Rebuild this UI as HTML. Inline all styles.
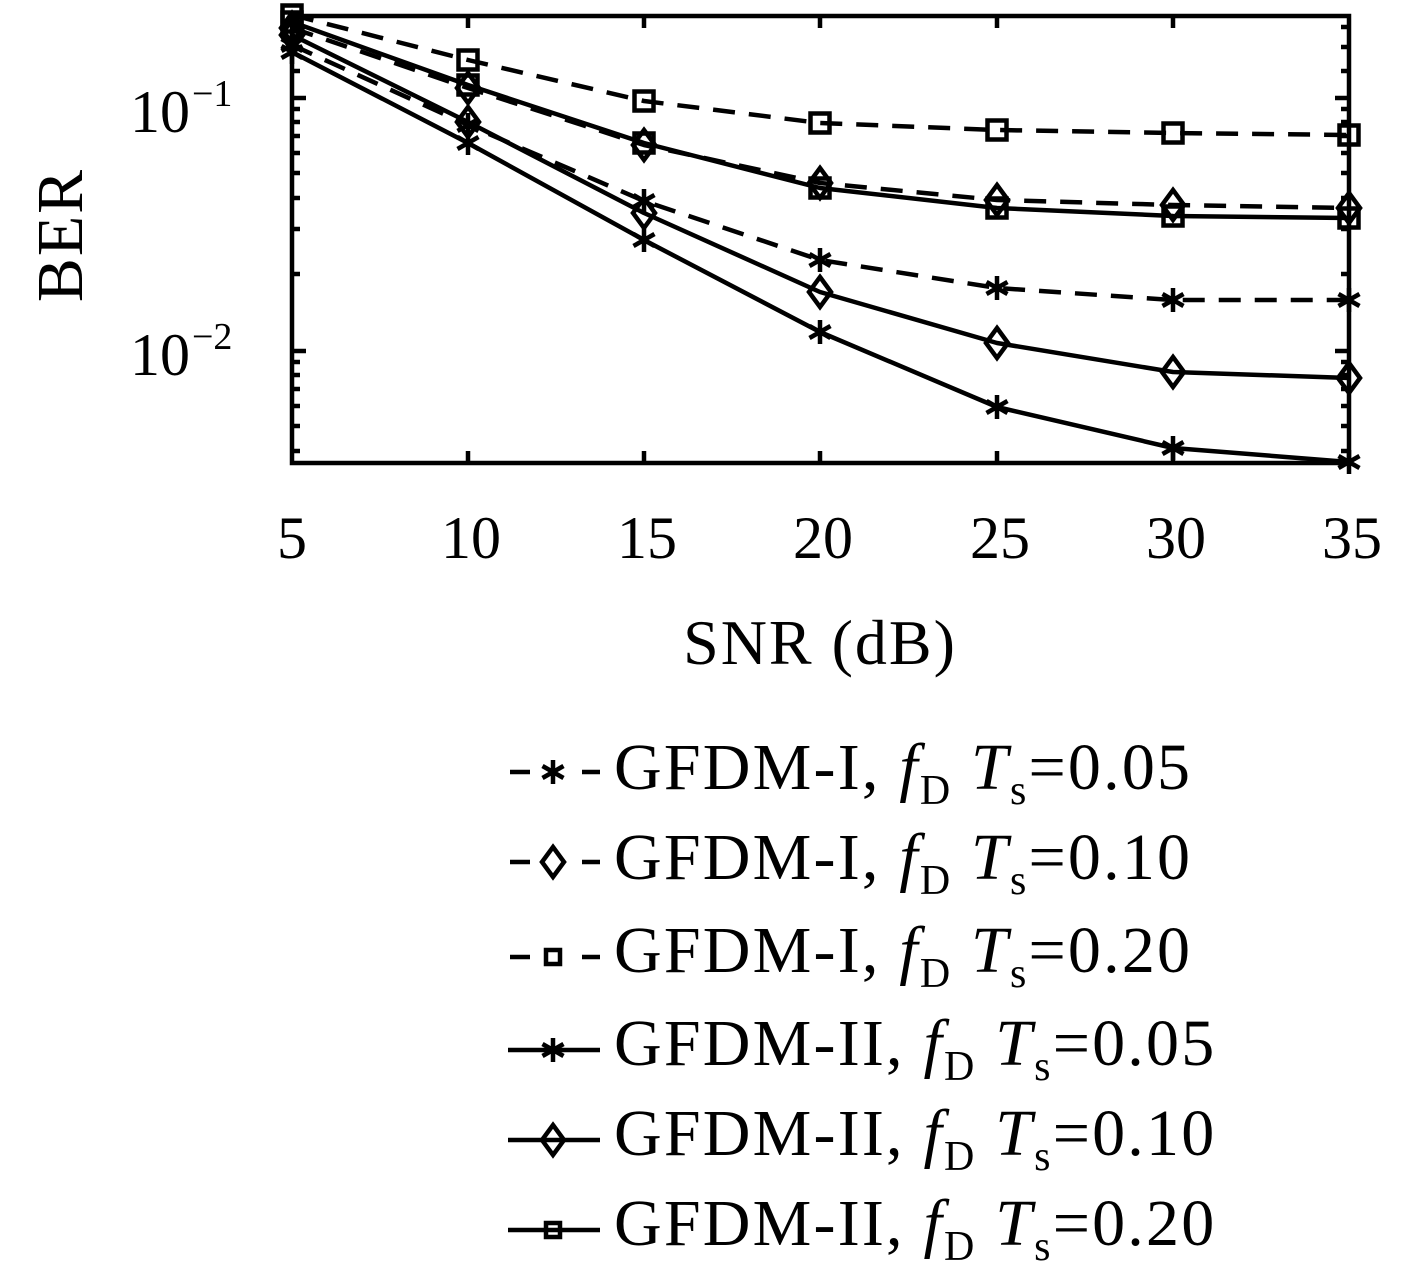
<!DOCTYPE html>
<html><head><style>body{margin:0;background:#fff}svg{display:block}</style></head><body>
<svg width="1417" height="1264" viewBox="0 0 1417 1264" xmlns="http://www.w3.org/2000/svg" font-family="Liberation Serif, serif">
<defs>
<g id="st" stroke="#000" stroke-width="4.5" fill="none"><path d="M0,-12V12M-10.5,-6L10.5,6M-10.5,6L10.5,-6"/></g>
<g id="di" stroke="#000" stroke-width="4.5" fill="none"><path d="M0,-15L11,0L0,15L-11,0Z"/></g>
<g id="sq" stroke="#000" stroke-width="4.5" fill="none"><rect x="-9.5" y="-9.5" width="19" height="19"/></g>
<g id="sqs" stroke="#000" stroke-width="4.5" fill="none"><rect x="-7" y="-7" width="14" height="14"/></g>
</defs>
<g stroke="#000" stroke-width="4.5" fill="none">
<rect x="292" y="16" width="1057" height="447"/>
<path d="M468,16v12M644,16v12M820,16v12M997,16v12M1173,16v12M468,463v-12M644,463v-12M820,463v-12M997,463v-12M1173,463v-12"/>
<path d="M292,98h14M292,351h14M1349,98h-14M1349,351h-14"/>
<path d="M292,109h8M292,122h8M292,136h8M292,153h8M292,173h8M292,198h8M292,229h8M292,274h8M292,362h8M292,375h8M292,389h8M292,406h8M292,426h8M292,451h8M292,27h8M292,47h8M292,71h8"/>
<path d="M1349,109h-8M1349,122h-8M1349,136h-8M1349,153h-8M1349,173h-8M1349,198h-8M1349,229h-8M1349,274h-8M1349,362h-8M1349,375h-8M1349,389h-8M1349,406h-8M1349,426h-8M1349,451h-8M1349,27h-8M1349,47h-8M1349,71h-8"/>
</g>
<g stroke="#000" stroke-width="4.5" fill="none" stroke-linejoin="round">
<polyline stroke-dasharray="22,14" points="292,45 468,125 644,201 820,260 997,288 1173,300 1349,300"/>
<polyline stroke-dasharray="22,14" points="292,28 468,88 644,145 820,183 997,200 1173,205 1349,208"/>
<polyline stroke-dasharray="22,14" points="292,15 468,60 644,101 820,123 997,130 1173,133 1349,135"/>
<polyline points="292,52 468,143 644,240 820,332 997,407 1173,448 1349,462"/>
<polyline points="292,35 468,122 644,213 820,292 997,343 1173,372 1349,378"/>
<polyline points="292,22 468,85 644,143 820,188 997,208 1173,216 1349,218"/>
</g>
<g>
<use href="#st" x="292" y="45"/><use href="#st" x="468" y="125"/><use href="#st" x="644" y="201"/><use href="#st" x="820" y="260"/><use href="#st" x="997" y="288"/><use href="#st" x="1173" y="300"/><use href="#st" x="1349" y="300"/>
<use href="#di" x="292" y="28"/><use href="#di" x="468" y="88"/><use href="#di" x="644" y="145"/><use href="#di" x="820" y="183"/><use href="#di" x="997" y="200"/><use href="#di" x="1173" y="205"/><use href="#di" x="1349" y="208"/>
<use href="#sq" x="292" y="15"/><use href="#sq" x="468" y="60"/><use href="#sq" x="644" y="101"/><use href="#sq" x="820" y="123"/><use href="#sq" x="997" y="130"/><use href="#sq" x="1173" y="133"/><use href="#sq" x="1349" y="135"/>
<use href="#st" x="292" y="52"/><use href="#st" x="468" y="143"/><use href="#st" x="644" y="240"/><use href="#st" x="820" y="332"/><use href="#st" x="997" y="407"/><use href="#st" x="1173" y="448"/><use href="#st" x="1349" y="462"/>
<use href="#di" x="292" y="35"/><use href="#di" x="468" y="122"/><use href="#di" x="644" y="213"/><use href="#di" x="820" y="292"/><use href="#di" x="997" y="343"/><use href="#di" x="1173" y="372"/><use href="#di" x="1349" y="378"/>
<use href="#sq" x="292" y="22"/><use href="#sq" x="468" y="85"/><use href="#sq" x="644" y="143"/><use href="#sq" x="820" y="188"/><use href="#sq" x="997" y="208"/><use href="#sq" x="1173" y="216"/><use href="#sq" x="1349" y="218"/>
</g>
<g font-size="60" text-anchor="middle" fill="#000">
<text x="292" y="558">5</text><text x="471" y="558">10</text><text x="647" y="558">15</text><text x="823" y="558">20</text><text x="1000" y="558">25</text><text x="1176" y="558">30</text><text x="1352" y="558">35</text>
<text x="820" y="664" font-size="64" letter-spacing="2">SNR (dB)</text>
<text transform="translate(82,235) rotate(-90)" font-size="66" letter-spacing="2">BER</text>
</g>
<g fill="#000">
<text x="130" y="132" font-size="60">10</text><text x="192" y="106" font-size="38">−1</text>
<text x="130" y="375" font-size="60">10</text><text x="192" y="349" font-size="38">−2</text>
</g>
<g stroke="#000" stroke-width="4.5" fill="none">
<path d="M510,772h20M582,772h18M510,862h20M582,862h18M510,957h20M582,957h18"/>
<path d="M508,1050h92M508,1140h92M508,1230h92"/>
</g>
<g>
<use href="#st" x="553" y="772"/><use href="#di" x="553" y="862"/><use href="#sqs" x="553" y="957"/>
<use href="#st" x="553" y="1050"/><use href="#di" x="553" y="1140"/><use href="#sqs" x="553" y="1230"/>
</g>
<g font-size="66" fill="#000" letter-spacing="2.2">
<text x="614" y="789">GFDM-I, <tspan font-style="italic">f</tspan><tspan font-size="42" dy="15">D</tspan><tspan font-style="italic" dy="-15"> T</tspan><tspan font-size="42" dy="15">s</tspan><tspan dy="-15">=0.05</tspan></text>
<text x="614" y="879">GFDM-I, <tspan font-style="italic">f</tspan><tspan font-size="42" dy="15">D</tspan><tspan font-style="italic" dy="-15"> T</tspan><tspan font-size="42" dy="15">s</tspan><tspan dy="-15">=0.10</tspan></text>
<text x="614" y="972">GFDM-I, <tspan font-style="italic">f</tspan><tspan font-size="42" dy="15">D</tspan><tspan font-style="italic" dy="-15"> T</tspan><tspan font-size="42" dy="15">s</tspan><tspan dy="-15">=0.20</tspan></text>
<text x="614" y="1065">GFDM-II, <tspan font-style="italic">f</tspan><tspan font-size="42" dy="15">D</tspan><tspan font-style="italic" dy="-15"> T</tspan><tspan font-size="42" dy="15">s</tspan><tspan dy="-15">=0.05</tspan></text>
<text x="614" y="1155">GFDM-II, <tspan font-style="italic">f</tspan><tspan font-size="42" dy="15">D</tspan><tspan font-style="italic" dy="-15"> T</tspan><tspan font-size="42" dy="15">s</tspan><tspan dy="-15">=0.10</tspan></text>
<text x="614" y="1245">GFDM-II, <tspan font-style="italic">f</tspan><tspan font-size="42" dy="15">D</tspan><tspan font-style="italic" dy="-15"> T</tspan><tspan font-size="42" dy="15">s</tspan><tspan dy="-15">=0.20</tspan></text>
</g>
</svg>
</body></html>
